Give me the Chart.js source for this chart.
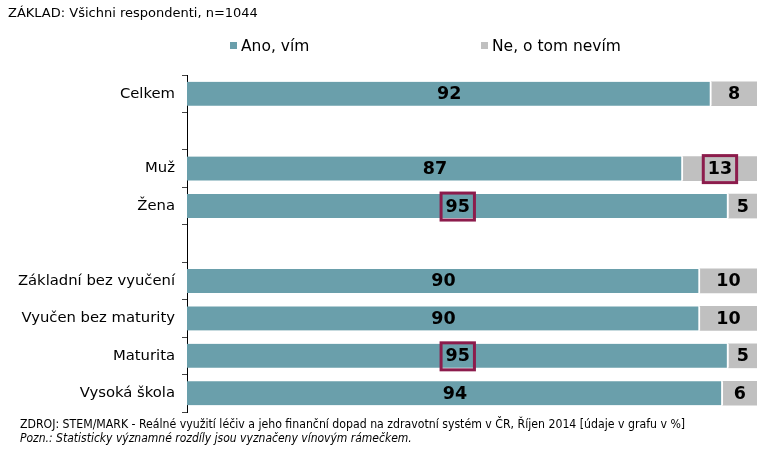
<!DOCTYPE html>
<html lang="cs">
<head>
<meta charset="UTF-8">
<title>Znalost</title>
<script src="https://cdn.jsdelivr.net/npm/chart.js"></script>
<style>
  body { margin: 0; background: #fff; font-family: "DejaVu Sans", sans-serif; }
  .wrap { position: relative; width: 781px; height: 457px; }
  #chart { position: absolute; left: 0; top: 0; }
  .title { position: absolute; left: 8px; top: 5px; font-size: 13px; color: #000; }
  .legend-item { position: absolute; top: 37px; font-size: 15.5px; color: #000; white-space: nowrap; }
  .legend-item i { display: inline-block; width: 7px; height: 7px; margin-right: 4px; vertical-align: 2px; }
  .source { position: absolute; left: 20px; top: 417px; font-family: "DejaVu Sans Condensed", "DejaVu Sans", sans-serif; font-stretch: condensed; font-size: 12.2px; color: #000; line-height: 14px; }
  .source em { font-size: 12px; }
</style>
</head>
<body>
<div class="wrap">
  <canvas id="chart" width="781" height="457"></canvas>
  <div class="title">ZÁKLAD: Všichni respondenti, n=1044</div>
  <div id="legend"></div>
  <div class="source">ZDROJ: STEM/MARK - Reálné využití léčiv a jeho finanční dopad na zdravotní systém v ČR, Říjen 2014 [údaje v grafu v %]<br><em>Pozn.: Statisticky významné rozdíly jsou vyznačeny vínovým rámečkem.</em></div>
</div>
<script>
const categories = ['Celkem', '', 'Muž', 'Žena', '', 'Základní bez vyučení', 'Vyučen bez maturity', 'Maturita', 'Vysoká škola'];
const seriesNames = ['Ano, vím', 'Ne, o tom nevím'];
const ano = [92, null, 87, 95, null, 90, 90, 95, 94];
const ne = [8, null, 13, 5, null, 10, 10, 5, 6];
// statisticky významné rozdíly (vínový rámeček)
const anoMarked = [false, false, false, true, false, false, false, true, false];
const neMarked = [false, false, true, false, false, false, false, false, false];

const colors = ['#6a9fab', '#c0c0c0'];
const legendX = [230, 481];

const legend = document.getElementById('legend');
seriesNames.forEach((name, i) => {
  const d = document.createElement('div');
  d.className = 'legend-item';
  d.style.left = legendX[i] + 'px';
  d.innerHTML = '<i style="background:' + colors[i] + '"></i>' + name;
  legend.appendChild(d);
});

const marks = [anoMarked, neMarked];

const valueLabels = {
  id: 'valueLabels',
  afterDatasetsDraw(chart) {
    const ctx = chart.ctx;
    ctx.save();
    ctx.font = 'bold 17.5px "DejaVu Sans", sans-serif';
    ctx.textAlign = 'center';
    ctx.textBaseline = 'middle';
    chart.data.datasets.forEach((ds, di) => {
      chart.getDatasetMeta(di).data.forEach((bar, i) => {
        const v = ds.data[i];
        if (v == null) return;
        const x = (bar.x + bar.base) / 2;
        const y = bar.y;
        ctx.fillStyle = '#000';
        ctx.fillText(v, x, y + 1);
        if (marks[di][i]) {
          const w = ctx.measureText(String(v)).width + 9;
          ctx.strokeStyle = '#8c1c4c';
          ctx.lineWidth = 3;
          ctx.strokeRect(x - w / 2, y - 13, w, 27);
        }
      });
    });
    ctx.restore();
  }
};

new Chart(document.getElementById('chart'), {
  type: 'bar',
  data: {
    labels: categories,
    datasets: [
      { label: seriesNames[0], data: ano, backgroundColor: colors[0], borderColor: '#ffffff', borderWidth: { right: 2 }, borderSkipped: false },
      { label: seriesNames[1], data: ne, backgroundColor: colors[1] }
    ]
  },
  options: {
    indexAxis: 'y',
    responsive: false,
    animation: false,
    layout: { padding: { top: 75, bottom: 45, right: 24, left: 0 } },
    plugins: { legend: { display: false }, tooltip: { enabled: false } },
    datasets: { bar: { barThickness: 24 } },
    scales: {
      x: { stacked: true, min: 0, max: 100, display: false },
      y: {
        stacked: true,
        afterFit(scale) { scale.width = 187; },
        border: { display: true, color: '#000', width: 1 },
        grid: { drawOnChartArea: false, drawTicks: true, tickLength: 5, color: '#444' },
        ticks: { color: '#000', padding: 7, font: { family: 'DejaVu Sans', size: 14.8 } }
      }
    }
  },
  plugins: [valueLabels]
});
</script>
</body>
</html>
